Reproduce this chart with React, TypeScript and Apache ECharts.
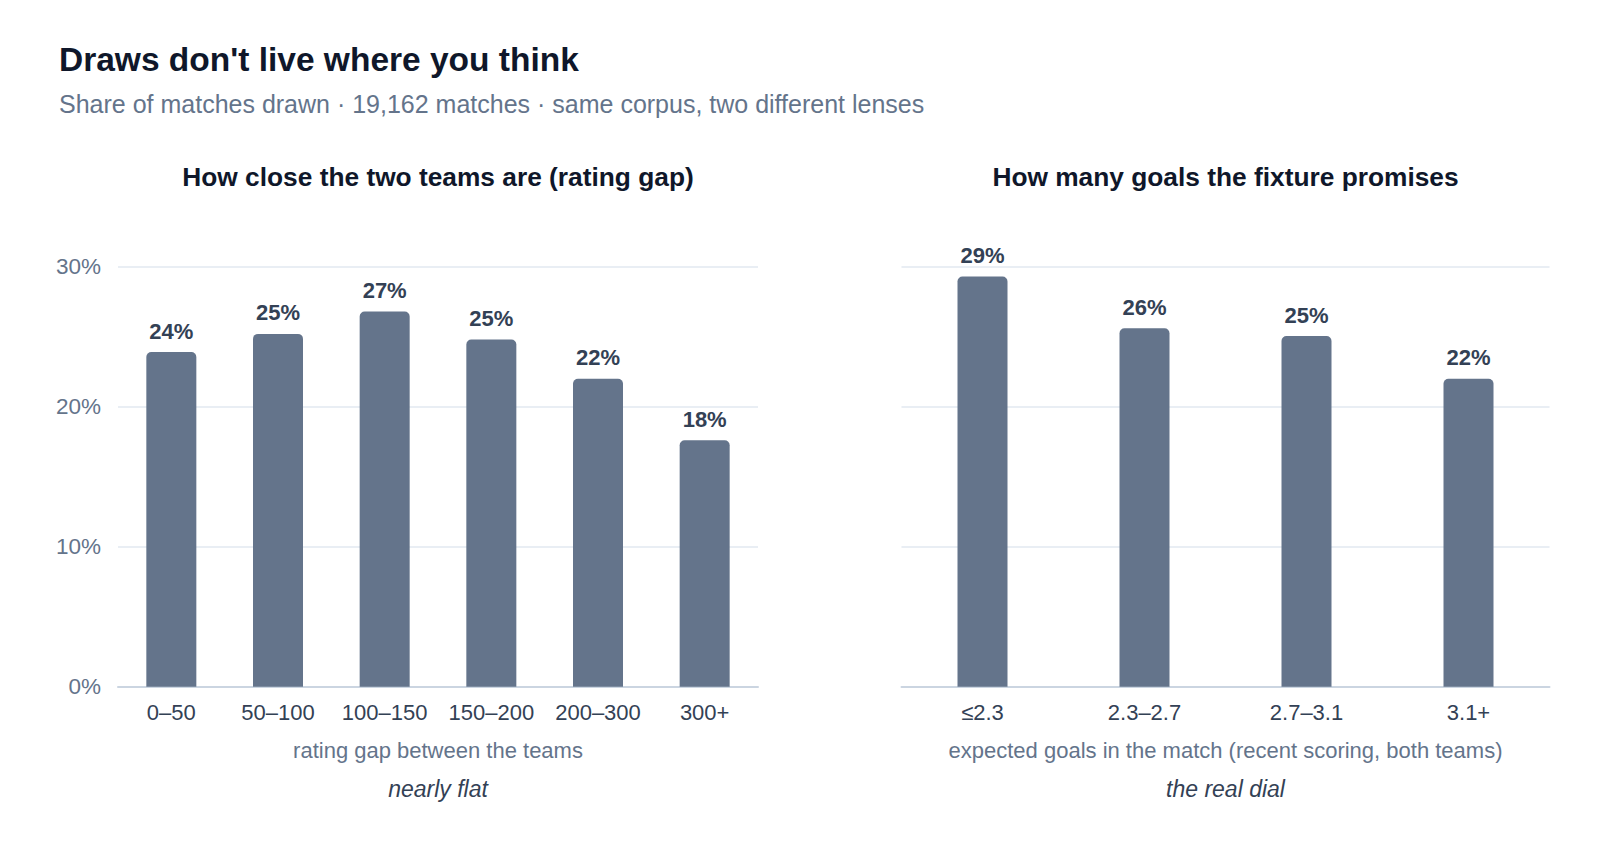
import React, { useEffect, useRef } from "react";
import * as echarts from "echarts";

const leftCategories = ["0–50", "50–100", "100–150", "150–200", "200–300", "300+"];
const leftValues = [23.9, 25.2, 26.8, 24.8, 22.0, 17.6];
const rightCategories = ["≤2.3", "2.3–2.7", "2.7–3.1", "3.1+"];
const rightValues = [29.3, 25.6, 25.05, 22.0];
const yTicks = [0, 10, 20, 30];

const FONT = '"Liberation Sans", Arial, Helvetica, sans-serif';
const BAR = "#64748b";
const DARK = "#0f172a";
const SLATE7 = "#334155";
const SLATE5 = "#64748b";

export default function App() {
  const ref = useRef<HTMLDivElement>(null);
  useEffect(() => {
    if (!ref.current) return;
    const chart = echarts.init(ref.current, null, { renderer: "svg" });
    const yAxisBase = (showLabels: boolean, gridIndex: number) => ({
      type: "value",
      gridIndex,
      min: yTicks[0],
      max: yTicks[yTicks.length - 1],
      interval: 10,
      axisLine: { show: false },
      axisTick: { show: false },
      axisLabel: {
        show: showLabels,
        formatter: (v: number) => `${v}%`,
        color: SLATE5,
        fontSize: 22.5,
        fontFamily: FONT,
        margin: 17,
      },
      splitLine: { lineStyle: { color: "#e2e8f0", width: 1.5 } },
    });
    const xAxisBase = (data: string[], gridIndex: number, name: string) => ({
      type: "category",
      gridIndex,
      data,
      name,
      nameLocation: "middle",
      nameGap: 53,
      nameTextStyle: { color: SLATE5, fontSize: 22, fontFamily: FONT },
      axisLine: { lineStyle: { color: "#cbd5e1", width: 2 } },
      axisTick: { show: false },
      axisLabel: { color: SLATE7, fontSize: 22, fontFamily: FONT, margin: 15, interval: 0 },
    });
    const seriesBase = (data: number[], idx: number) => ({
      type: "bar",
      xAxisIndex: idx,
      yAxisIndex: idx,
      data,
      barWidth: 50,
      itemStyle: { color: BAR, borderRadius: [5, 5, 0, 0] },
      label: {
        show: true,
        position: "top",
        distance: 10,
        formatter: (p: any) => `${Math.round(p.value)}%`,
        color: SLATE7,
        fontSize: 22,
        fontWeight: "bold",
        fontFamily: FONT,
      },
    });
    chart.setOption({
      animation: false,
      backgroundColor: "#ffffff",
      title: [
        {
          text: "Draws don't live where you think",
          left: 59,
          top: 42.75,
          padding: 0,
          textStyle: { color: DARK, fontSize: 33.5, fontWeight: "bold", fontFamily: FONT },
        },
        {
          text: "Share of matches drawn · 19,162 matches · same corpus, two different lenses",
          left: 59,
          top: 91.4,
          padding: 0,
          textStyle: { color: SLATE5, fontSize: 25, fontWeight: "normal", fontFamily: FONT },
        },
        {
          text: "How close the two teams are (rating gap)",
          left: 438,
          textAlign: "center",
          top: 163.9,
          padding: 0,
          textStyle: { color: DARK, fontSize: 26.3, fontWeight: "bold", fontFamily: FONT },
        },
        {
          text: "How many goals the fixture promises",
          left: 1225.5,
          textAlign: "center",
          top: 163.9,
          padding: 0,
          textStyle: { color: DARK, fontSize: 26.3, fontWeight: "bold", fontFamily: FONT },
        },
        {
          text: "nearly flat",
          left: 438,
          textAlign: "center",
          top: 777,
          padding: 0,
          textStyle: { color: SLATE7, fontSize: 23, fontStyle: "italic", fontWeight: "normal", fontFamily: FONT },
        },
        {
          text: "the real dial",
          left: 1225.5,
          textAlign: "center",
          top: 777,
          padding: 0,
          textStyle: { color: SLATE7, fontSize: 23, fontStyle: "italic", fontWeight: "normal", fontFamily: FONT },
        },
      ],
      grid: [
        { left: 118, width: 640, top: 266.7, height: 420 },
        { left: 901.5, width: 648, top: 266.7, height: 420 },
      ],
      xAxis: [
        xAxisBase(leftCategories, 0, "rating gap between the teams"),
        xAxisBase(rightCategories, 1, "expected goals in the match (recent scoring, both teams)"),
      ],
      yAxis: [yAxisBase(true, 0), yAxisBase(false, 1)],
      series: [seriesBase(leftValues, 0), seriesBase(rightValues, 1)],
    });
    return () => chart.dispose();
  }, []);
  return (
    <div
      ref={ref}
      style={{ position: "fixed", left: 0, top: 0, width: 1600, height: 842, background: "#fff" }}
    />
  );
}
